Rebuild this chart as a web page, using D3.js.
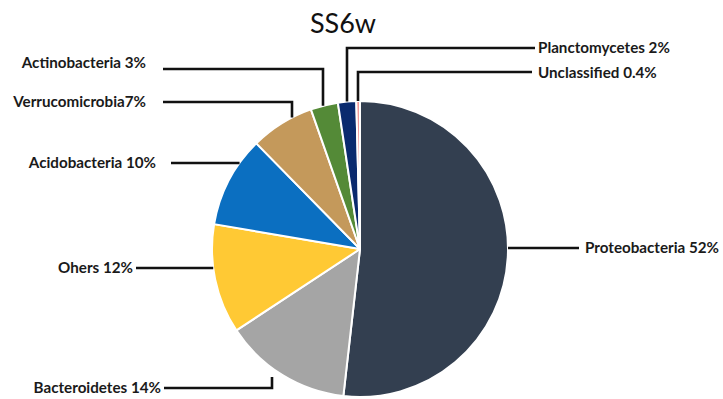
<!DOCTYPE html>
<html>
<head>
<meta charset="utf-8">
<script src="https://cdn.jsdelivr.net/npm/d3@7"></script>
<style>
  html, body { margin: 0; padding: 0; background: #fff; }
  svg { display: block; }
</style>
</head>
<body>
<svg id="chart" width="723" height="399"></svg>
<script>
// Phylum composition, sample SS6w
const phyla = ["Proteobacteria", "Bacteroidetes", "Ohers", "Acidobacteria",
               "Verrucomicrobia", "Actinobacteria", "Planctomycetes", "Unclassified"];
const shares = [52, 14, 12, 10, 7, 3, 2, 0.4];
const labelTexts = ["Proteobacteria 52%", "Bacteroidetes 14%", "Ohers 12%", "Acidobacteria 10%",
                    "Verrucomicrobia7%", "Actinobacteria 3%", "Planctomycetes 2%", "Unclassified 0.4%"];

const sliceColors = ["#333f50", "#a5a5a5", "#ffc934", "#0b6fc1",
                     "#c4995b", "#548a37", "#0a2a6e", "#f19a9a"];

// Label placement: text anchor point, leader start x, and optional elbow x
// kind "h": straight horizontal leader to the rim; "e": horizontal then vertical to the rim
const labelLayout = [
  { tx: 585, ty: 253, anchor: "start", y: 248, x0: 579, kind: "h" },
  { tx: 161, ty: 393, anchor: "end",   y: 388, x0: 164, kind: "e", ex: 272, gap: 9 },
  { tx: 133, ty: 273, anchor: "end",   y: 268, x0: 136, kind: "h" },
  { tx: 156, ty: 168, anchor: "end",   y: 163, x0: 171, kind: "h" },
  { tx: 146, ty: 107, anchor: "end",   y: 102, x0: 163, kind: "e", ex: 292, gap: 0 },
  { tx: 146, ty: 68,  anchor: "end",   y: 69,  x0: 163, kind: "e", ex: 323, gap: 0 },
  { tx: 538, ty: 53,  anchor: "start", y: 48,  x0: 535, kind: "e", ex: 347, gap: 0 },
  { tx: 538, ty: 78,  anchor: "start", y: 72,  x0: 532, kind: "e", ex: 358, gap: 0 }
];

const svg = d3.select("#chart");
const cx = 360, cy = 249, R = 148;

svg.append("text")
  .attr("x", 343).attr("y", 33)
  .attr("text-anchor", "middle")
  .style("font-family", "Lato, 'Open Sans', sans-serif")
  .style("font-size", "27px")
  .style("fill", "#111")
  .text("SS6w");

const pie = d3.pie().sort(null).value(d => d);
const arcs = pie(shares);
const arc = d3.arc().innerRadius(0).outerRadius(R);

const g = svg.append("g").attr("transform", `translate(${cx},${cy})`);
g.selectAll("path")
  .data(arcs)
  .join("path")
  .attr("d", arc)
  .attr("fill", (d, i) => sliceColors[i])
  .attr("stroke", "#fff")
  .attr("stroke-width", 2)
  .attr("stroke-linejoin", "round");

// Leader lines meet the pie rim
const lines = svg.append("g")
  .attr("fill", "none")
  .attr("stroke", "#111")
  .attr("stroke-width", 2.6);

labelLayout.forEach((L, i) => {
  let pts;
  if (L.kind === "h") {
    const dx = Math.sqrt(R * R - (L.y - cy) * (L.y - cy));
    const xe = L.anchor === "start" ? cx + dx : cx - dx;
    pts = [[L.x0, L.y], [xe, L.y]];
  } else {
    const dy = Math.sqrt(R * R - (L.ex - cx) * (L.ex - cx));
    const ye = L.y < cy ? cy - dy + L.gap : cy + dy + L.gap;
    pts = [[L.x0, L.y], [L.ex, L.y], [L.ex, ye]];
  }
  lines.append("path").attr("d", d3.line()(pts));
});

svg.append("g")
  .selectAll("text")
  .data(labelTexts)
  .join("text")
  .attr("x", (d, i) => labelLayout[i].tx)
  .attr("y", (d, i) => labelLayout[i].ty)
  .attr("text-anchor", (d, i) => labelLayout[i].anchor)
  .style("font-family", "Lato, 'Open Sans', sans-serif")
  .style("font-weight", "bold")
  .style("font-size", "15.2px")
  .style("fill", "#1a1a1a")
  .text(d => d);
</script>
</body>
</html>
